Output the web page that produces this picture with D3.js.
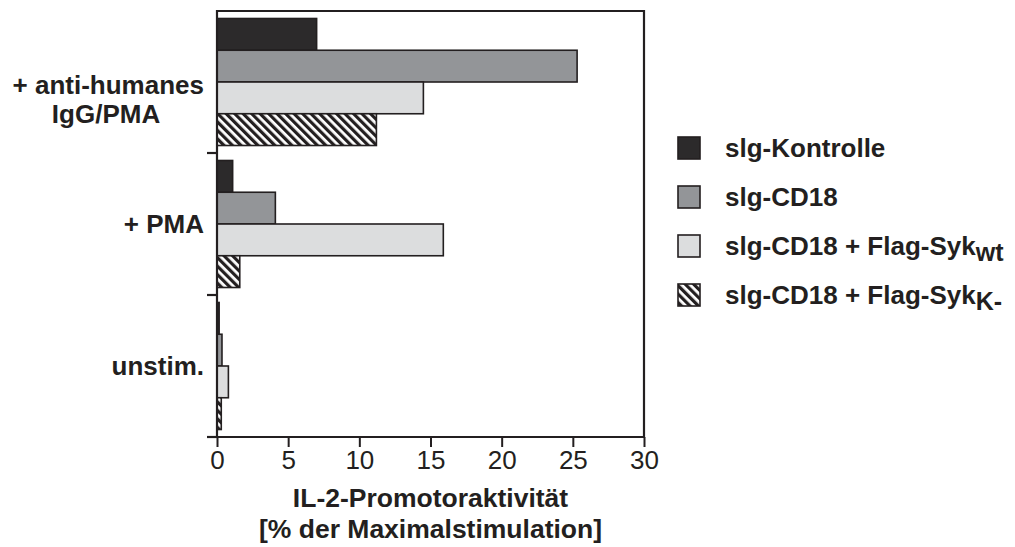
<!DOCTYPE html>
<html><head><meta charset="utf-8">
<script src="https://cdn.jsdelivr.net/npm/d3@7"></script>
<style>body{margin:0;background:#fff}svg{display:block}</style>
</head><body><svg id="c" width="1015" height="547"></svg>
<script>
// ---- data ----
const categories = ["+ anti-humanes IgG/PMA", "+ PMA", "unstim."];
const categoryLines = [["+ anti-humanes", "IgG/PMA"], ["+ PMA"], ["unstim."]];
const seriesKeys = ["kontrolle", "cd18", "sykWt", "sykK"];
const legendMain = ["slg-Kontrolle", "slg-CD18", "slg-CD18 + Flag-Syk", "slg-CD18 + Flag-Syk"];
const legendSub = ["", "", "wt", "K-"];
const kontrolle = [7.0, 1.1, 0.15];
const cd18 = [25.3, 4.1, 0.35];
const sykWt = [14.5, 15.9, 0.8];
const sykK = [11.2, 1.6, 0.3];
const xTicks = [0, 5, 10, 15, 20, 25, 30];
const xTitle = ["IL-2-Promotoraktivität", "[% der Maximalstimulation]"];

const seriesValues = {kontrolle, cd18, sykWt, sykK};
const fills = {kontrolle: "#2c2a2b", cd18: "#939598", sykWt: "#dcddde", sykK: "url(#hatch)"};
const ink = "#231f20";
const font = "'Liberation Sans', Arial, Helvetica, sans-serif";

const svg = d3.select("#c");
const defs = svg.append("defs");
const pat = defs.append("pattern").attr("id", "hatch").attr("patternUnits", "userSpaceOnUse")
  .attr("width", 6).attr("height", 6).attr("patternTransform", "rotate(-45)");
pat.append("rect").attr("width", 6).attr("height", 6).attr("fill", "#fff");
pat.append("rect").attr("width", 3.2).attr("height", 6).attr("fill", ink);

const L = 217, R = 644, T = 11, B = 437;
const x = d3.scaleLinear().domain([0, 30]).range([L, R]);
const y0 = d3.scaleBand().domain(categories).range([T, B]).padding(0);
const y1 = d3.scaleBand().domain(seriesKeys).range([0, y0.bandwidth()]).paddingInner(0).paddingOuter(0.236);

// bars
const g = svg.append("g");
categories.forEach((c, ci) => {
  seriesKeys.forEach(k => {
    g.append("rect")
      .attr("x", x(0))
      .attr("y", y0(c) + y1(k))
      .attr("width", x(seriesValues[k][ci]) - x(0))
      .attr("height", y1.bandwidth())
      .attr("fill", fills[k])
      .attr("stroke", ink).attr("stroke-width", 1.6);
  });
});

// frame
const frame = svg.append("g").attr("stroke", ink).attr("stroke-width", 2.2).attr("fill", "none");
frame.append("path").attr("d", `M${L},${B}V${T}H${R}V${B}H${L}`);

// y ticks at group boundaries
categories.forEach(c => {
  frame.append("line").attr("x1", L - 10).attr("x2", L).attr("y1", y0(c) + y0.bandwidth()).attr("y2", y0(c) + y0.bandwidth());
});

// x axis
const xa = svg.append("g").attr("transform", `translate(0,${B})`)
  .call(d3.axisBottom(x).tickValues(xTicks).tickSize(10).tickPadding(4).tickFormat(d3.format("d")));
xa.select(".domain").remove();
xa.selectAll(".tick line").attr("stroke", ink).attr("stroke-width", 2);
xa.selectAll(".tick text").attr("fill", ink).style("font-family", font).style("font-size", "26px");

// x title
svg.append("g").selectAll("text").data(xTitle).join("text")
  .attr("x", (L + R) / 2).attr("y", (d, i) => 507 + i * 31)
  .attr("text-anchor", "middle").attr("fill", ink)
  .style("font-family", font).style("font-size", "26.5px").style("font-weight", "bold")
  .text(d => d);

// category labels
const catStyle = s => s.attr("fill", ink).style("font-family", font).style("font-size", "26px").style("font-weight", "bold");
categories.forEach((c, ci) => {
  const lines = categoryLines[ci];
  const cy = y0(c) + y0.bandwidth() / 2;
  if (lines.length === 1) {
    svg.append("text").attr("x", 204).attr("y", cy + 9).attr("text-anchor", "end").call(catStyle).text(lines[0]);
  } else {
    svg.append("text").attr("x", 204).attr("y", cy + 12).attr("text-anchor", "end").call(catStyle).text(lines[0]);
    svg.append("text").attr("x", 106).attr("y", cy + 41).attr("text-anchor", "middle").call(catStyle).text(lines[1]);
  }
});

// legend
const lg = svg.append("g");
seriesKeys.forEach((k, i) => {
  const cy = 148 + i * 49;
  lg.append("rect").attr("x", 678).attr("y", cy - 11).attr("width", 22).attr("height", 22)
    .attr("fill", fills[k]).attr("stroke", ink).attr("stroke-width", 1.6);
  const t = lg.append("text").attr("x", 725).attr("y", cy + 9).attr("fill", ink)
    .style("font-family", font).style("font-size", "26px").style("font-weight", "bold");
  t.append("tspan").text(legendMain[i]);
  if (legendSub[i]) t.append("tspan").attr("dy", 6).style("font-size", "25px").text(legendSub[i]);
});
</script></body></html>
